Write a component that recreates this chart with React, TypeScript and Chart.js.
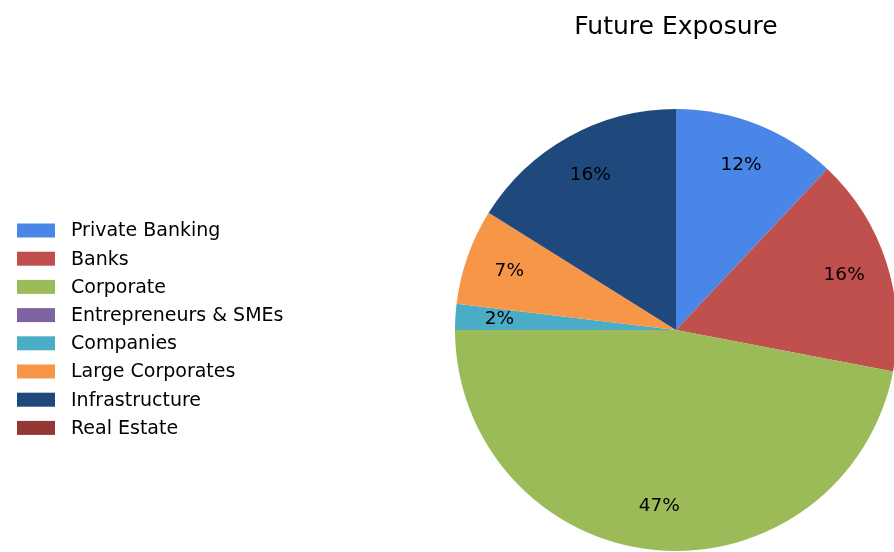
import React, { useEffect, useRef } from "react";
import { Chart, registerables } from "chart.js";

Chart.register(...registerables);

const TITLE = "Future Exposure";
const CATEGORIES = [
  "Private Banking",
  "Banks",
  "Corporate",
  "Entrepreneurs & SMEs",
  "Companies",
  "Large Corporates",
  "Infrastructure",
  "Real Estate",
];
const VALUES = [12.0, 16.0, 47.0, 0, 1.9, 7.0, 16.1, 0];
const COLORS = [
  "#4a86e8",
  "#c0504d",
  "#9bbb59",
  "#8064a2",
  "#4bacc6",
  "#f79646",
  "#1f497d",
  "#953735",
];

const FONT = "'DejaVu Sans', sans-serif";
const CANVAS_W = 920;
const CANVAS_H = 552;

const overlayPlugin = {
  id: "overlay",
  afterDatasetsDraw(chart: any) {
    const ctx = chart.ctx;
    const meta = chart.getDatasetMeta(0);
    const ds = chart.data.datasets[0];
    const total = (ds.data as number[]).reduce((a, b) => a + b, 0);
    ctx.save();
    // percentage labels
    ctx.fillStyle = "#000";
    ctx.font = `18.5px ${FONT}`;
    ctx.textAlign = "center";
    ctx.textBaseline = "middle";
    meta.data.forEach((arc: any, i: number) => {
      const v = ds.data[i] as number;
      if (!v) return;
      const p = arc.getProps(["x", "y", "startAngle", "endAngle", "outerRadius"], true);
      const mid = (p.startAngle + p.endAngle) / 2;
      const r = p.outerRadius * 0.8;
      const pct = Math.round((v / total) * 100);
      ctx.fillText(`${pct}%`, p.x + Math.cos(mid) * r, p.y + Math.sin(mid) * r);
    });
    // title
    ctx.font = `25px ${FONT}`;
    ctx.textAlign = "center";
    ctx.textBaseline = "alphabetic";
    ctx.fillText(TITLE, meta.data[0].x, 34);
    // legend
    ctx.font = `19px ${FONT}`;
    ctx.textAlign = "left";
    ctx.textBaseline = "middle";
    const labels = chart.data.labels as string[];
    labels.forEach((lab: string, i: number) => {
      const cy = 230.5 + i * 28.2;
      ctx.fillStyle = (ds.backgroundColor as string[])[i];
      ctx.fillRect(17, cy - 7, 38, 14);
      ctx.fillStyle = "#000";
      ctx.fillText(lab, 71, cy + 1);
    });
    ctx.restore();
  },
};

export default function App() {
  const ref = useRef<HTMLCanvasElement>(null);
  useEffect(() => {
    if (!ref.current) return;
    const chart = new Chart(ref.current, {
      type: "pie",
      data: {
        labels: CATEGORIES,
        datasets: [
          {
            data: VALUES,
            backgroundColor: COLORS,
            borderWidth: 0,
          },
        ],
      },
      options: {
        responsive: false,
        animation: false,
        devicePixelRatio: 1,
        layout: { padding: { left: 455, right: CANVAS_W - 897, top: 109, bottom: CANVAS_H - 551 } },
        plugins: {
          legend: { display: false },
          title: { display: false },
          tooltip: { enabled: false },
        },
      },
      plugins: [overlayPlugin],
    });
    return () => chart.destroy();
  }, []);
  return (
    <div
      style={{
        position: "fixed",
        left: 0,
        top: 0,
        width: 894,
        height: 552,
        overflow: "hidden",
        background: "#fff",
      }}
    >
      <canvas ref={ref} width={CANVAS_W} height={CANVAS_H} style={{ display: "block" }} />
    </div>
  );
}
